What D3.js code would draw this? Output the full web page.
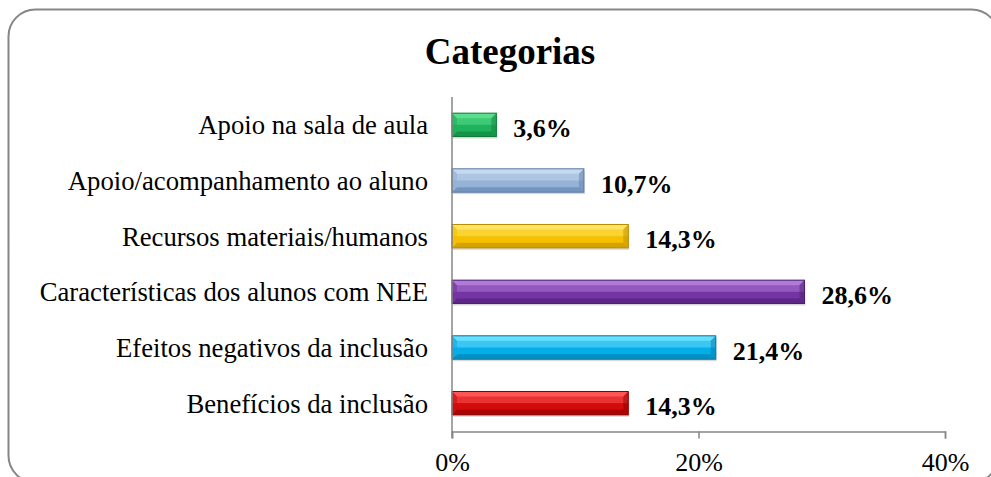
<!DOCTYPE html>
<html>
<head>
<meta charset="utf-8">
<script src="https://cdn.jsdelivr.net/npm/d3@7"></script>
<style>
  body { margin: 0; background: #fff; }
</style>
</head>
<body>
<div id="chart-area"></div>
<script>
// data
var categories = [
  "Apoio na sala de aula",
  "Apoio/acompanhamento ao aluno",
  "Recursos materiais/humanos",
  "Características dos alunos com NEE",
  "Efeitos negativos da inclusão",
  "Benefícios da inclusão"
];
var values = [3.6, 10.7, 14.3, 28.6, 21.4, 14.3];
var valueLabels = ["3,6%", "10,7%", "14,3%", "28,6%", "21,4%", "14,3%"];
var ticks = [0, 20, 40];

// bar colours: light, base, dark
var barColors = [
  ["#5ee08f", "#1db25b", "#0e7a3a"],
  ["#c9daf0", "#95b3d7", "#5a7ba8"],
  ["#ffe566", "#f5c000", "#b88a00"],
  ["#b27ed8", "#7434a3", "#4b1f6e"],
  ["#6fe0ff", "#05aee8", "#0479a6"],
  ["#ff5a5a", "#d20a0a", "#8a0000"]
];

var FONT = "'Liberation Serif'";
var svg = d3.select("#chart-area").append("svg")
  .attr("width", 991)
  .attr("height", 477)
  .attr("font-family", "Liberation Serif");

// outer frame
svg.append("rect")
  .attr("x", 8.5).attr("y", 9.5)
  .attr("width", 990).attr("height", 473)
  .attr("rx", 27).attr("ry", 27)
  .attr("fill", "#fff")
  .attr("stroke", "#868686")
  .attr("stroke-width", 2);

var x = d3.scaleLinear().domain([0, 40]).range([452, 945]);
var y = d3.scaleBand().domain(categories).range([97, 431])
  .paddingInner(0.58).paddingOuter(0.29);

// bars with bevel
svg.selectAll(".bar").data(categories).enter()
  .append("g").attr("class", "bar")
  .each(function (d, i) {
    var g = d3.select(this);
    var x0 = x(0), x1 = x(values[i]);
    var y0 = y(d), y1 = y(d) + y.bandwidth();
    var b = 5;
    g.append("rect")
      .attr("x", x0 + 1).attr("y", y0 + 2)
      .attr("width", x1 - x0).attr("height", y1 - y0)
      .attr("fill", "#000").attr("opacity", 0.15);
    g.append("rect")
      .attr("x", x0).attr("y", y0)
      .attr("width", x1 - x0).attr("height", y1 - y0)
      .attr("fill", barColors[i][1]);
    // soft highlight on upper half
    g.append("rect")
      .attr("x", x0).attr("y", y0)
      .attr("width", x1 - x0).attr("height", (y1 - y0) * 0.5)
      .attr("fill", barColors[i][0]).attr("opacity", 0.5);
    g.append("polygon")
      .attr("points", [[x0, y0], [x1, y0], [x1 - b, y0 + b], [x0 + b, y0 + b]].join(" "))
      .attr("fill", barColors[i][0]).attr("opacity", 0.9);
    g.append("polygon")
      .attr("points", [[x0, y1], [x1, y1], [x1 - b, y1 - b], [x0 + b, y1 - b]].join(" "))
      .attr("fill", barColors[i][2]).attr("opacity", 0.55);
    g.append("polygon")
      .attr("points", [[x1, y0], [x1, y1], [x1 - b, y1 - b], [x1 - b, y0 + b]].join(" "))
      .attr("fill", barColors[i][2]).attr("opacity", 0.45);
    g.append("polygon")
      .attr("points", [[x0, y0], [x0, y1], [x0 + b, y1 - b], [x0 + b, y0 + b]].join(" "))
      .attr("fill", barColors[i][1]).attr("opacity", 0.6);
    g.append("rect")
      .attr("x", x0).attr("y", y0)
      .attr("width", x1 - x0).attr("height", y1 - y0)
      .attr("fill", "none")
      .attr("stroke", barColors[i][2]).attr("stroke-width", 1);
  });

// axes
svg.append("line")
  .attr("x1", x(0)).attr("x2", x(0))
  .attr("y1", 97).attr("y2", 438)
  .attr("stroke", "#868686").attr("stroke-width", 1.5);

var xAxis = svg.append("g")
  .attr("transform", "translate(0,431.5)")
  .call(d3.axisBottom(x).tickValues(ticks).tickSize(7).tickPadding(14)
    .tickFormat(function (d) { return d + "%"; }));
xAxis.attr("font-family", "Liberation Serif").attr("font-size", 26);
xAxis.select(".domain").attr("stroke", "#868686").attr("stroke-width", 1.5);
xAxis.selectAll(".tick line").attr("stroke", "#868686").attr("stroke-width", 1.5);
xAxis.selectAll(".tick text").attr("fill", "#000");

// title
svg.append("text")
  .attr("x", 510).attr("y", 64)
  .attr("text-anchor", "middle")
  .attr("font-size", 37)
  .attr("font-weight", "bold")
  .text("Categorias");

// category labels
svg.selectAll(".cat").data(categories).enter()
  .append("text")
  .attr("class", "cat")
  .attr("x", 428)
  .attr("y", function (d) { return y(d) + y.bandwidth() / 2; })
  .attr("dy", "0.35em")
  .attr("text-anchor", "end")
  .attr("font-size", 26.7)
  .text(function (d) { return d; });

// value labels
svg.selectAll(".val").data(categories).enter()
  .append("text")
  .attr("class", "val")
  .attr("x", function (d, i) { return x(values[i]) + 17; })
  .attr("y", function (d) { return y(d) + y.bandwidth() / 2 + 3; })
  .attr("dy", "0.35em")
  .attr("font-size", 26)
  .attr("font-weight", "bold")
  .text(function (d, i) { return valueLabels[i]; });
</script>
</body>
</html>
